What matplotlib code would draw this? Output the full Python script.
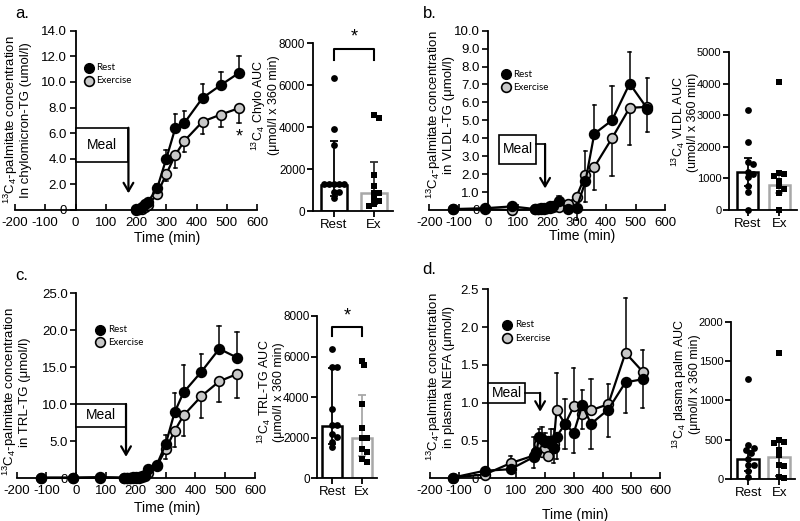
import numpy as np
import matplotlib
matplotlib.use('Agg')
import matplotlib.pyplot as plt
from matplotlib.ticker import FuncFormatter
from matplotlib.patches import Rectangle

plt.rcParams['font.family'] = ['Liberation Sans', 'DejaVu Sans']
plt.rcParams['mathtext.fontset'] = 'custom'
plt.rcParams['mathtext.rm'] = 'Liberation Sans'
plt.rcParams['mathtext.it'] = 'Liberation Sans:italic'
plt.rcParams['mathtext.bf'] = 'Liberation Sans:bold'
plt.rcParams['axes.unicode_minus'] = False

# ---------------- data: time courses ----------------
times_a = [200, 210, 220, 230, 240, 270, 300, 330, 360, 420, 480, 540]
rest_a = [0.05, 0.1, 0.2, 0.45, 0.65, 1.7, 4.0, 6.4, 6.8, 8.75, 9.75, 10.7]
rest_a_lo = [0] * 12
rest_a_hi = [0, 0, 0.1, 0.1, 0.15, 0.3, 0.7, 1.1, 0.95, 1.05, 1.05, 1.35]
ex_a = [0.0, 0.05, 0.1, 0.25, 0.4, 1.25, 2.8, 4.3, 5.4, 6.9, 7.45, 7.95]
ex_a_lo = [0, 0, 0, 0.1, 0.15, 0.3, 0.55, 1.0, 0.9, 1.0, 0.95, 1.15]
ex_a_hi = [0] * 12

times_b = [-120, -10, 80, 160, 170, 180, 190, 200, 210, 220, 240, 270, 300, 330, 360, 420, 480, 540]
rest_b = [0.05, 0.1, 0.2, 0.05, 0.05, 0.05, 0.1, 0.1, 0.2, 0.25, 0.5, 0.05, 0.1, 1.6, 4.25, 5.0, 7.05, 5.65]
rest_b_lo = [0, 0, 0, 0, 0, 0, 0, 0, 0, 0, 0, 0, 0.65, 1.13, 0, 0, 0, 0]
rest_b_hi = [0, 0, 0, 0, 0, 0, 0, 0, 0, 0, 0.3, 0, 0, 0, 1.6, 1.9, 1.75, 1.7]
ex_b = [0.05, 0.05, 0.0, 0.05, 0.05, 0.1, 0.05, 0.1, 0.1, 0.15, 0.15, 0.35, 0.75, 1.95, 2.4, 4.0, 5.7, 5.75]
ex_b_lo = [0, 0, 0, 0, 0, 0, 0, 0, 0, 0, 0, 0, 0, 0, 1.3, 2.1, 2.05, 1.4]
ex_b_hi = [0, 0, 0, 0, 0, 0, 0, 0, 0, 0, 0, 0, 0, 1.35, 0, 0, 0, 0]

times_c = [-120, -10, 80, 160, 170, 180, 190, 200, 210, 220, 230, 240, 270, 300, 330, 360, 420, 480, 540]
rest_c = [0.1, 0.1, 0.15, 0.1, 0.1, 0.1, 0.15, 0.15, 0.2, 0.3, 0.5, 1.3, 1.8, 4.6, 8.9, 11.6, 14.4, 17.5, 16.3]
rest_c_lo = [0] * 19
rest_c_hi = [0, 0, 0, 0, 0, 0, 0, 0, 0, 0, 0, 0, 0, 1.2, 2.6, 3.7, 2.35, 3.1, 3.5]
ex_c = [0.05, 0.05, 0.1, 0.05, 0.05, 0.05, 0.1, 0.1, 0.1, 0.15, 0.3, 0.7, 1.6, 3.9, 6.4, 8.5, 11.1, 13.1, 14.1]
ex_c_lo = [0, 0, 0, 0, 0, 0, 0, 0, 0, 0, 0, 0, 0, 1.3, 2.2, 2.8, 3.0, 2.8, 3.3]
ex_c_hi = [0] * 19

times_d = [-120, -10, 80, 160, 170, 180, 190, 200, 210, 220, 230, 240, 270, 300, 330, 360, 420, 480, 540]
rest_d = [0.01, 0.1, 0.12, 0.28, 0.35, 0.55, 0.52, 0.48, 0.5, 0.45, 0.4, 0.55, 0.72, 0.6, 0.97, 0.72, 0.91, 1.27, 1.31]
rest_d_lo = [0, 0, 0.05, 0.15, 0.1, 0.15, 0.15, 0.2, 0.15, 0.2, 0.2, 0.3, 0.33, 0.26, 0, 0.33, 0.36, 0.4, 0.38]
rest_d_hi = [0, 0, 0, 0, 0, 0, 0, 0, 0, 0, 0, 0, 0, 0, 0.2, 0, 0, 0, 0]
ex_d = [0.01, 0.05, 0.2, 0.3, 0.35, 0.45, 0.35, 0.4, 0.3, 0.5, 0.45, 0.9, 0.72, 0.95, 0.85, 0.9, 0.98, 1.66, 1.41]
ex_d_lo = [0, 0, 0, 0, 0, 0, 0, 0, 0, 0, 0, 0, 0, 0, 0.2, 0, 0, 0, 0]
ex_d_hi = [0, 0, 0.1, 0.25, 0.2, 0.2, 0.33, 0.2, 0.25, 0.15, 0.2, 0.49, 0.33, 0.51, 0, 0.42, 0.27, 0.72, 0.29]

# ---------------- data: AUC ----------------
groups = ['Rest', 'Ex']
auc_a_rest = [6320, 3900, 3150, 1290, 1290, 1290, 1290, 1290, 890, 890, 640]
auc_a_ex = [4570, 4410, 1710, 1200, 840, 840, 600, 470, 330, 250]
auc_a_bar = [1250, 880]
auc_a_top = [3350, 2350]
auc_a_bot = [700, 350]

auc_b_rest = [3170, 2150, 1510, 1450, 1220, 1150, 1060, 770, 560, 0]
auc_b_ex = [4070, 1170, 1150, 1080, 920, 760, 680, 540, 0]
auc_b_bar = [1200, 790]
auc_b_top = [1660, 1100]
auc_b_bot = [750, 550]

auc_c_rest = [6370, 5470, 5470, 3420, 2650, 2650, 2200, 2050, 1800, 1550]
auc_c_ex = [5800, 5570, 3650, 2500, 2000, 2000, 1450, 1300, 950, 800]
auc_c_bar = [2600, 2000]
auc_c_top = [5450, 4100]
auc_c_bot = [1700, 1100]

auc_d_rest = [1267, 430, 400, 370, 330, 250, 180, 180, 100, 30]
auc_d_ex = [1600, 490, 475, 460, 370, 300, 180, 165, 20, 10]
auc_d_bar = [260, 280]
auc_d_top = [350, 480]
auc_d_bot = [100, 40]

W, H = 800, 521
fig = plt.figure(figsize=(8, 5.21), dpi=100)


def px_axes(x0, x1, ytop, ybot):
    return fig.add_axes([x0 / W, 1 - ybot / H, (x1 - x0) / W, (ybot - ytop) / H])


def ftext(x, y, s, **kw):
    fig.text(x / W, 1 - y / H, s, **kw)


def errs(ax, t, v, lo, hi, color):
    t = np.asarray(t); v = np.asarray(v); lo = np.asarray(lo); hi = np.asarray(hi)
    m = (lo > 0) | (hi > 0)
    for i in np.where(m)[0]:
        ylo = v[i] - lo[i]; yhi = v[i] + hi[i]
        ax.plot([t[i], t[i]], [ylo, yhi], color=color, lw=1.1, zorder=2, clip_on=False)
        if hi[i] > 0:
            ax.plot([t[i] - 6, t[i] + 6], [yhi, yhi], color=color, lw=1.1, zorder=2, clip_on=False)
        if lo[i] > 0:
            ax.plot([t[i] - 6, t[i] + 6], [ylo, ylo], color=color, lw=1.1, zorder=2, clip_on=False)


def line_panel(rect, times, rest, rlo, rhi, ex, elo, ehi, ymax, ystep, leg):
    ax = px_axes(*rect)
    ax.set_xlim(-200, 600)
    ax.set_ylim(0, ymax)
    ax.patch.set_alpha(0)
    ax.spines['left'].set_position(('data', 0))
    ax.spines['top'].set_visible(False)
    ax.spines['right'].set_visible(False)
    for s in ('left', 'bottom'):
        ax.spines[s].set_linewidth(1.3)
    ax.set_xticks(np.arange(-200, 601, 100))
    ax.set_yticks(np.arange(0, ymax + 1e-9, ystep))
    ax.yaxis.set_major_formatter(FuncFormatter(lambda v, p: '0' if abs(v) < 1e-9 else f'{v:.1f}'))
    ax.tick_params(axis='x', direction='in', length=4, width=1.2, labelsize=9.5, pad=5)
    ax.tick_params(axis='y', direction='out', length=4, width=1.2, labelsize=9.5, pad=2)
    errs(ax, times, rest, rlo, rhi, 'black')
    errs(ax, times, ex, elo, ehi, 'black')
    ax.plot(times, ex, '-o', color='black', mfc='#c8c8c8', mec='black', ms=7, mew=1.2,
            lw=1.6, zorder=3, clip_on=False)
    ax.plot(times, rest, '-o', color='black', mfc='black', mec='black', ms=7, mew=1.2,
            lw=1.6, zorder=4, clip_on=False)
    lx, ly1, ly2, tx = leg
    ax.plot([lx], [ly1], 'o', color='black', ms=7, clip_on=False)
    ax.plot([lx], [ly2], 'o', mfc='#c8c8c8', mec='black', mew=1.2, ms=7, clip_on=False)
    ax.text(tx, ly1, 'Rest', fontsize=7, va='center', ha='left', family='Lato')
    ax.text(tx, ly2, 'Exercise', fontsize=7, va='center', ha='left', family='Lato')
    return ax


def meal_simple(ax, x0, x1, ybot, ytop, tip):
    ax.add_patch(Rectangle((x0, ybot), x1 - x0, ytop - ybot, fc='white', ec='black', lw=1.2, zorder=5))
    ax.text((x0 + x1) / 2, (ybot + ytop) / 2, 'Meal', ha='center', va='center', fontsize=10, zorder=6)
    ax.annotate('', xy=(x1, tip), xytext=(x1, ytop),
                arrowprops=dict(arrowstyle='->,head_length=0.6,head_width=0.35', lw=1.6,
                                color='black', shrinkA=0, shrinkB=0), zorder=6)


def meal_step(ax, x0, x1, ybot, ytop, yc, xa, tip):
    ax.add_patch(Rectangle((x0, ybot), x1 - x0, ytop - ybot, fc='white', ec='black', lw=1.2, zorder=5))
    ax.text((x0 + x1) / 2, (ybot + ytop) / 2, 'Meal', ha='center', va='center', fontsize=10, zorder=6)
    ax.plot([x1, xa], [yc, yc], color='black', lw=1.2, zorder=6)
    ax.annotate('', xy=(xa, tip), xytext=(xa, yc),
                arrowprops=dict(arrowstyle='->,head_length=0.6,head_width=0.35', lw=1.6,
                                color='black', shrinkA=0, shrinkB=0), zorder=6)


def swarm_x(vals, center, ppu_y, ppu_x, diam):
    vals = np.asarray(vals, dtype=float)
    xs = np.zeros(len(vals))
    placed = []
    step = diam * 0.4
    for i in np.argsort(-vals):
        y = vals[i] * ppu_y
        for k in range(60):
            off = ((k + 1) // 2) * step * (1 if k % 2 else -1)
            if all((off - px) ** 2 + (y - py) ** 2 >= (0.75 * diam) ** 2 for px, py in placed):
                break
        placed.append((off, y))
        xs[i] = center + off / ppu_x
    return xs


def auc_panel(rect, xlim, ymax, ystep, rpts, epts, bars, tops, bots, barw, ecol, tsize):
    ax = px_axes(*rect)
    ax.set_xlim(*xlim)
    ax.set_ylim(0, ymax)
    ax.patch.set_alpha(0)
    ax.bar([0, 1], bars, width=barw, color='white', edgecolor=['black', '#a8a8a8'], linewidth=1.8, zorder=1)
    for i, c in enumerate(['black', ecol]):
        ax.errorbar([i], [bars[i]], yerr=[[bars[i] - bots[i]], [tops[i] - bars[i]]], fmt='none',
                    ecolor=c, elinewidth=1.3, capsize=3, capthick=1.3, zorder=2)
    wpx = rect[1] - rect[0]
    hpx = rect[3] - rect[2]
    ppu_x = wpx / (xlim[1] - xlim[0])
    ppu_y = hpx / ymax
    xr = swarm_x(rpts, 0, ppu_y, ppu_x, 6.5)
    xe = swarm_x(epts, 1, ppu_y, ppu_x, 6.5)
    ax.scatter(xr, rpts, s=24, marker='o', color='black', zorder=3, clip_on=False, linewidths=0)
    ax.scatter(xe, epts, s=22, marker='s', color='black', zorder=3, clip_on=False, linewidths=0)
    ax.spines['top'].set_visible(False)
    ax.spines['right'].set_visible(False)
    for s in ('left', 'bottom'):
        ax.spines[s].set_linewidth(1.3)
    ax.set_xticks([0, 1])
    ax.set_xticklabels(groups)
    ax.set_yticks(np.arange(0, ymax + 1, ystep))
    ax.tick_params(direction='out', length=4, width=1.3, labelsize=tsize, pad=1.5)
    ax.tick_params(axis='x', labelsize=9.5)
    return ax


def bracket(ax, ytop, yleg, ystar):
    ax.plot([0, 0, 1, 1], [yleg, ytop, ytop, yleg], color='black', lw=1.5, clip_on=False)
    ax.text(0.5, ystar, '*', ha='center', va='center', fontsize=13, clip_on=False)


ylab_line = r'$^{\mathrm{13}}$C$_{\mathrm{4}}$-palmitate concentration'
auc_pre = r'$^{\mathrm{13}}$C$_{\mathrm{4}}$ '

# ---------- panel a ----------
axa = line_panel((15, 257, 30.7, 210), times_a, rest_a, rest_a_lo, rest_a_hi, ex_a, ex_a_lo, ex_a_hi,
                 14, 2, (45, 11.1, 10.1, 68))
meal_simple(axa, 0, 175, 3.77, 6.42, 1.3)
axa.text(540, 5.7, '*', ha='center', va='center', fontsize=13)
ftext(16.5, 120, ylab_line + '\nIn chylomicron-TG (umol/l)', rotation=90, ha='center', va='center',
      fontsize=9.5, linespacing=1.0)
ftext(167, 238, 'Time (min)', ha='center', va='center', fontsize=10)
ftext(15, 14, 'a.', ha='left', va='center', fontsize=12)

axa2 = auc_panel((313, 393, 43, 211), (-0.525, 1.475), 8000, 2000, auc_a_rest, auc_a_ex,
                 auc_a_bar, auc_a_top, auc_a_bot, 0.65, '#303030', 8.5)
bracket(axa2, 7700, 7200, 8300)
ftext(265, 105, auc_pre + 'Chylo AUC\n(μmol/l x 360 min)', rotation=90, ha='center', va='center',
      fontsize=9, linespacing=1.0)

# ---------- panel b ----------
axb = line_panel((429.3, 665, 30.7, 210), times_b, rest_b, rest_b_lo, rest_b_hi, ex_b, ex_b_lo, ex_b_hi,
                 10, 1, (59, 7.58, 6.84, 84))
meal_step(axb, 37, 162, 2.57, 4.18, 3.68, 193, 1.2)
ftext(440, 115, ylab_line + '\nin VLDL-TG (μmol/l)', rotation=90, ha='center', va='center',
      fontsize=9.5, linespacing=1.0)
ftext(582, 236, 'Time (min)', ha='center', va='center', fontsize=10)
ftext(423, 14, 'b.', ha='left', va='center', fontsize=12)

axb2 = auc_panel((729, 797, 52.3, 210), (-0.59, 1.56), 5000, 1000, auc_b_rest, auc_b_ex,
                 auc_b_bar, auc_b_top, auc_b_bot, 0.66, '#a8a8a8', 8)
ftext(684, 122, auc_pre + 'VLDL AUC\n(umol/l x 360 min)', rotation=90, ha='center', va='center',
      fontsize=9, linespacing=1.0)

# ---------- panel c ----------
axc = line_panel((16.7, 255, 293.3, 478.3), times_c, rest_c, rest_c_lo, rest_c_hi, ex_c, ex_c_lo, ex_c_hi,
                 25, 5, (80, 20.1, 18.4, 106))
meal_simple(axc, 0, 167, 6.97, 10.04, 2.9)
ftext(16, 392, ylab_line + '\nin TRL-TG (μmol/l)', rotation=90, ha='center', va='center',
      fontsize=9.5, linespacing=1.0)
ftext(167, 508, 'Time (min)', ha='center', va='center', fontsize=10)
ftext(15, 276, 'c.', ha='left', va='center', fontsize=12)

axc2 = auc_panel((317.3, 376.7, 316, 478.3), (-0.51, 1.51), 8000, 2000, auc_c_rest, auc_c_ex,
                 auc_c_bar, auc_c_top, auc_c_bot, 0.68, '#a8a8a8', 8.5)
bracket(axc2, 7475, 7015, 8000)
ftext(270, 392, auc_pre + 'TRL-TG AUC\n(μmol/l x 360 min)', rotation=90, ha='center', va='center',
      fontsize=9, linespacing=1.0)

# ---------- panel d ----------
axd = line_panel((430, 660, 289.3, 478.3), times_d, rest_d, rest_d_lo, rest_d_hi, ex_d, ex_d_lo, ex_d_hi,
                 2.5, 0.5, (69, 2.03, 1.85, 96))
meal_step(axd, 3, 130, 0.99, 1.26, 1.13, 183, 0.88)
ftext(440, 377, ylab_line + '\nin plasma NEFA (μmol/l)', rotation=90, ha='center', va='center',
      fontsize=9.5, linespacing=1.0)
ftext(575, 515, 'Time (min)', ha='center', va='center', fontsize=10)
ftext(422, 270, 'd.', ha='left', va='center', fontsize=12)

axd2 = auc_panel((731, 795, 321.7, 479), (-0.56, 1.51), 2000, 500, auc_d_rest, auc_d_ex,
                 auc_d_bar, auc_d_top, auc_d_bot, 0.7, '#303030', 8)
ftext(686, 384, auc_pre + 'plasma palm AUC\n(μmol/l x 360 min)', rotation=90, ha='center', va='center',
      fontsize=9, linespacing=1.0)

fig.savefig('out.png', dpi=100)
